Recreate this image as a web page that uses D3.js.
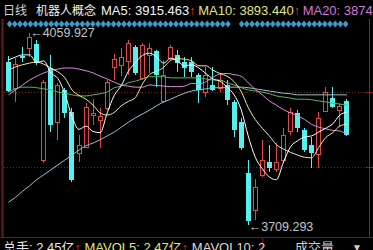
<!DOCTYPE html>
<html>
<head>
<meta charset="utf-8">
<script src="https://cdn.jsdelivr.net/npm/d3@7/dist/d3.min.js"></script>
<style>
html,body{margin:0;padding:0;background:#000;overflow:hidden;}
svg{display:block;}
text{font-family:"Liberation Sans","Noto Sans CJK SC",sans-serif;}
</style>
</head>
<body>
<svg id="chart" width="373" height="250"></svg>
<script>
// ---------- data ----------
const days = d3.range(1, 50); // 49 trading days (no date axis shown)
const open = [4007.0,3959.5,4017.9,4032.5,4039.8,3828.0,3996.0,3897.4,3955.8,3915.7,3840.8,3851.8,3910.2,3901.1,3923.0,3997.8,4001.5,4008.8,4034.4,3977.8,4019.8,4027.1,3935.8,4014.3,4019.8,4007.0,4007.0,3983.2,3952.2,3965.0,3959.5,3965.0,3933.9,3897.4,3804.3,3736.7,3800.6,3824.4,3811.6,3828.0,3881.0,3913.8,3882.8,3855.4,3839.0,3917.5,3941.2,3919.3,3935.8];
const high = [4017.9,4014.3,4034.4,4059.927,4047.2,3974.1,4019.8,3968.6,3959.5,3923.0,3873.7,3932.1,3939.4,3923.0,3974.1,4021.6,4032.5,4047.2,4038.0,4041.7,4041.7,4028.9,4010.6,4038.0,4028.9,4016.1,4016.1,3986.9,3997.8,3997.8,3986.9,3974.1,3937.6,3904.7,3828.0,3793.3,3864.5,3855.4,3859.1,3886.4,3923.0,3919.3,3886.4,3870.0,3915.7,3961.3,3961.3,3932.1,3939.4];
const low = [3952.2,3933.9,4007.0,4016.1,4001.5,3822.5,3879.1,3864.5,3904.7,3787.8,3824.4,3849.9,3891.9,3849.9,3919.3,3974.1,3981.4,3983.2,3983.2,3974.1,3986.9,3961.3,3932.1,4010.6,3988.7,3979.6,3979.6,3932.1,3943.1,3954.0,3952.2,3928.5,3870.0,3846.3,3709.293,3718.4,3797.0,3806.1,3806.1,3822.5,3873.7,3879.1,3842.6,3813.4,3813.4,3915.7,3923.0,3888.3,3871.8];
const close = [3954.0,4003.3,4014.3,4052.6,4005.2,3970.5,3891.9,3965.0,3913.8,3791.5,3855.4,3924.8,3913.8,3908.4,3970.5,4012.5,4016.1,4041.7,3986.9,4038.0,4032.5,3983.2,3983.2,4034.4,4005.2,3996.0,3988.7,3955.8,3983.2,3955.8,3974.1,3937.6,3882.8,3849.9,3716.6,3778.7,3828.0,3813.4,3824.4,3873.7,3915.7,3886.4,3846.3,3840.8,3904.7,3952.2,3924.8,3926.6,3873.7];

const ma5  = [4011,4016,4020,4020,4006,4009,3987,3977,3949,3907,3884,3890,3880,3878,3914,3946,3964,3990,4006,4019,4023,4016,4005,4014,4008,4000,4002,3996,3986,3976,3972,3961,3947,3920,3872,3833,3812,3797,3792,3824,3852,3863,3870,3872,3879,3886,3894,3910,3915.463];
const ma10 = [3992,3998,4002,4005,4007,4003,3996,3989,3978,3956,3946,3939,3928,3914,3910,3915,3927,3935,3942,3967,3984,3990,3997,4010,4013,4012,4009,4000,4000,3992,3986,3981,3971,3953,3924,3902,3886,3872,3856,3848,3842,3837,3833,3832,3851,3869,3878,3890,3893.44];
const ma20 = [3947,3956,3965,3974,3981,3987,3991,3994,3996,3996,3994,3991,3987,3981,3976,3970,3965,3963,3961,3961,3965,3964,3963,3962,3962,3963,3968,3967,3971,3979,3985,3986,3984,3981,3969,3957,3947,3936,3928,3920,3914,3909,3902,3893,3888,3885,3882,3881,3874];
const ma30 = [3952,3958,3961,3961,3960,3958,3956,3952,3950,3947,3945,3945,3947,3949,3952,3960,3963,3969,3972,3976,3980,3980,3980,3978,3978,3978,3978,3978,3976,3974,3974,3969,3965,3960,3956,3954,3952,3949,3945,3943,3941,3939,3939,3938,3936,3934,3932,3930,3928];
const ma60 = [3751,3760,3771,3781,3792,3801,3810,3819,3828,3837,3846,3854,3859,3865,3872,3879,3888,3897,3905,3912,3919,3927,3934,3939,3945,3950,3954,3956,3958,3960,3960,3961,3961,3961,3960,3958,3956,3954,3952,3950,3949,3947,3947,3947,3947,3947,3947,3947,3947];

const gridPrices = [3952.2, 3815.2];
const titleLabels = ["日线", "机器人概念"];
const maLabels = ["MA5: 3915.463", "MA10: 3893.440", "MA20: 3874"];
const volLabels = ["总手: 2.45亿", "MAVOL5: 2.47亿", "MAVOL10: 2"];
const panelLabel = "成交量";

// ---------- setup ----------
const W = 373, H = 250;
const svg = d3.select("#chart");
svg.append("rect").attr("width", W).attr("height", H).attr("fill", "#000");

const x = d3.scaleLinear().domain([0, days.length - 1]).range([8.5, 346.9]);
const y = d3.scaleLinear().domain([3709.293, 4059.927]).range([225, 33]);

const RED = "#e04848", CYAN = "#54f0f0";

// borders & grid
svg.append("line").attr("x1", 2.5).attr("x2", 2.5).attr("y1", 19).attr("y2", 237)
  .attr("stroke", "#6a1c1c").attr("stroke-width", 2);
svg.append("line").attr("x1", 369.5).attr("x2", 369.5).attr("y1", 19).attr("y2", 237)
  .attr("stroke", "#8a2222").attr("stroke-width", 1);
svg.append("line").attr("x1", 0).attr("x2", W).attr("y1", 237.5).attr("y2", 237.5)
  .attr("stroke", "#6a1c1c").attr("stroke-width", 1);
svg.append("line").attr("x1", 262.5).attr("x2", 262.5).attr("y1", 238).attr("y2", H)
  .attr("stroke", "#6a1c1c").attr("stroke-width", 1);

svg.selectAll("line.grid").data(gridPrices).join("line").attr("class", "grid")
  .attr("x1", 4).attr("x2", 369)
  .attr("y1", d => Math.round(y(d)) + 0.5).attr("y2", d => Math.round(y(d)) + 0.5)
  .attr("stroke", "#7a2020").attr("stroke-dasharray", "1,2");
svg.selectAll("line.rtick").data(gridPrices).join("line").attr("class", "rtick")
  .attr("x1", 366).attr("x2", 373)
  .attr("y1", d => Math.round(y(d)) + 0.5).attr("y2", d => Math.round(y(d)) + 0.5)
  .attr("stroke", "#8a2222");

// decorative diamond strip under the header
const strip = svg.append("g").attr("fill", "#3a9dcf");
[[7, 232], [239, 353]].forEach(([a, b]) => {
  for (let cx = a + 2.6; cx <= b - 2.6; cx += 5.2) {
    strip.append("path").attr("d", `M${cx},20.5 L${cx + 2.8},24 L${cx},27.5 L${cx - 2.8},24 Z`);
  }
});

// ---------- candles ----------
const candles = days.map((d, i) => ({ d, i, o: open[i], h: high[i], l: low[i], c: close[i] }));
const cg = svg.append("g");
candles.forEach(k => {
  const left = Math.round(x(k.i) - 2.5);
  const mid = left + 2.5;
  const upC = k.c >= k.o;
  const col = upC ? RED : CYAN;
  cg.append("line").attr("x1", mid).attr("x2", mid)
    .attr("y1", y(k.h)).attr("y2", y(k.l)).attr("stroke", col).attr("stroke-width", 1);
  const top = Math.round(y(Math.max(k.o, k.c)));
  const bot = Math.round(y(Math.min(k.o, k.c)));
  if (upC) {
    cg.append("rect").attr("x", left + 0.5).attr("width", 4)
      .attr("y", top + 0.5).attr("height", Math.max(1, bot - top))
      .attr("fill", "#000").attr("stroke", RED).attr("stroke-width", 1);
  } else {
    cg.append("rect").attr("x", left).attr("width", 5)
      .attr("y", top).attr("height", Math.max(1, bot - top)).attr("fill", CYAN);
  }
});

// ---------- moving averages ----------
const lineGen = d3.line().x((v, i) => x(i)).y(v => y(v)).curve(d3.curveMonotoneX);
[[ma60, "#86c6d6"], [ma30, "#58b858"], [ma20, "#e08ae0"], [ma10, "#eeeea0"], [ma5, "#ffffff"]]
  .forEach(([arr, col]) => {
    svg.append("path").datum(arr).attr("d", lineGen)
      .attr("fill", "none").attr("stroke", col).attr("stroke-width", 1);
  });

// ---------- high / low labels ----------
const fmt = d3.format(".3f");
const iMax = d3.maxIndex(high), iMin = d3.minIndex(low);
svg.append("text").attr("x", x(iMax) + 0.5).attr("y", y(high[iMax]) + 4)
  .attr("font-size", 12.5).attr("fill", "#c4c4c4").text("←" + fmt(high[iMax]));
svg.append("text").attr("x", x(iMin) + 0.5).attr("y", y(low[iMin]) + 6)
  .attr("font-size", 12.5).attr("fill", "#c4c4c4").text("←" + fmt(low[iMin]));

// ---------- header ----------
function chain(parent, items, startX, baseY) {
  let cx = startX;
  items.forEach(it => {
    cx += it.gap || 0;
    const t = parent.append("text").attr("x", cx).attr("y", baseY)
      .attr("font-size", it.size).attr("fill", it.color).text(it.text);
    cx += t.node().getComputedTextLength();
  });
}
chain(svg, [
  { text: titleLabels[0], color: "#cfcfcf", size: 12, gap: 0 },
  { text: titleLabels[1], color: "#f0f0f0", size: 12, gap: 9 },
  { text: maLabels[0], color: "#f4f4f4", size: 13, gap: 5 },
  { text: "↑", color: "#ff3a3a", size: 12, gap: 0 },
  { text: maLabels[1], color: "#e4e47c", size: 13, gap: 3 },
  { text: "↑", color: "#ff3a3a", size: 12, gap: 0 },
  { text: maLabels[2], color: "#cf78d8", size: 13, gap: 3 }
], 3, 15);

// ---------- bottom row ----------
chain(svg, [
  { text: volLabels[0], color: "#e8e8e8", size: 13, gap: 0 },
  { text: "↑", color: "#ff3a3a", size: 12, gap: 0 },
  { text: volLabels[1], color: "#e4e47c", size: 13, gap: 4 },
  { text: "↑", color: "#ff3a3a", size: 12, gap: 0 },
  { text: volLabels[2], color: "#dcdcdc", size: 13, gap: 4 }
], 3, 252);
svg.append("text").attr("x", 295).attr("y", 252).attr("font-size", 13)
  .attr("fill", "#d0d0d0").text(panelLabel);
svg.append("text").attr("x", 352).attr("y", 251).attr("font-size", 10)
  .attr("fill", "#d0d0d0").text("▼");
</script>
</body>
</html>
